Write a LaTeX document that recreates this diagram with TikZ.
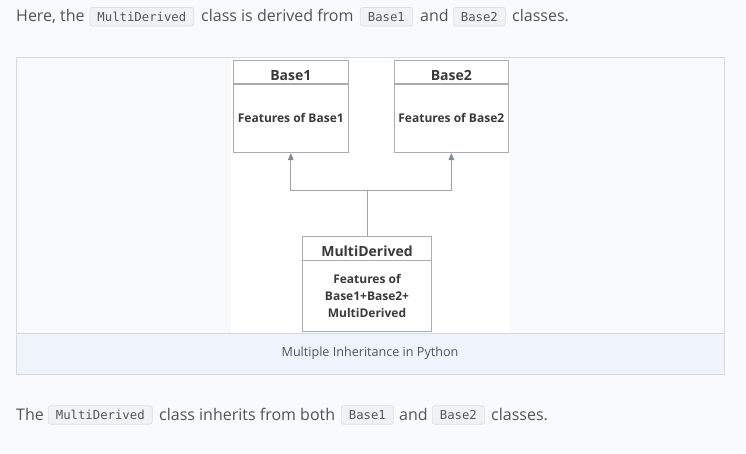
\documentclass[tikz,border=0pt]{standalone}
\usepackage{fontspec}
\setmainfont{Open Sans}
\setmonofont{DejaVu Sans Mono}
\usetikzlibrary{positioning,arrows.meta}

\definecolor{pagebg}{HTML}{F9FAFB}
\definecolor{framebg}{HTML}{F8F9FA}
\definecolor{frameline}{HTML}{D6DAE0}
\definecolor{capbg}{HTML}{EFF4FC}
\definecolor{captext}{HTML}{4F5366}
\definecolor{paratext}{HTML}{50525E}
\definecolor{chipbg}{HTML}{F1F2F3}
\definecolor{chipline}{HTML}{DCDFE3}
\definecolor{chiptext}{HTML}{55575F}
\definecolor{boxline}{HTML}{A9ACB0}
\definecolor{clstext}{HTML}{3A3A3A}
\definecolor{linkcol}{HTML}{97A4B0}
\definecolor{tipcol}{HTML}{7D8C9C}

\begin{document}
\begin{tikzpicture}[x=1pt, y=-1pt,
  para/.style={anchor=base west, inner sep=0pt, font=\fontsize{16}{19}\selectfont, text=paratext},
  chip/.style={draw=chipline, fill=chipbg, rounded corners=2.5pt, line width=0.7pt, anchor=west,
    minimum height=18.6pt, inner xsep=7.5pt, inner ysep=0pt, font=\fontsize{12.3}{14}\selectfont\ttfamily, text=chiptext},
  clshead/.style={draw=boxline, line width=0.9pt, fill=white, inner sep=0pt,
    text height=16pt, text depth=0pt, font=\fontsize{14}{16}\selectfont\bfseries, text=clstext},
  clsbody/.style={draw=boxline, line width=0.9pt, fill=white, inner sep=0pt, align=center,
    font=\fontsize{12}{17}\selectfont\bfseries, text=clstext},
  link/.style={draw=linkcol, line width=1pt},
  linkarrow/.style={link, -{Triangle[length=7pt,width=5.5pt,color=tipcol]}}
]
\useasboundingbox (0,0) rectangle (746,453);
\fill[pagebg] (0,0) rectangle (746,453);

% top line
\node[para] (t1) at (16,21.5) {Here, the};
\node[chip] (c1) at (89.6,16.7) {MultiDerived};
\node[para] (t2) at (201,21.5) {class is derived from};
\node[chip] (c2) at (360,16.7) {Base1};
\node[para] (t3) at (420,21.5) {and};
\node[chip] (c3) at (453,16.7) {Base2};
\node[para] (t4) at (512,21.5) {classes.};

% figure frame
\filldraw[fill=framebg, draw=frameline, line width=0.8pt] (16,57.3) rectangle (724,374);
\fill[white] (231,57.8) rectangle (510,333);
\filldraw[fill=capbg, draw=frameline, line width=0.8pt] (16,333) rectangle (724,374);
\node[font=\fontsize{12.6}{15}\selectfont, text=captext] (cap) at (370,353.5) {Multiple Inheritance in Python};

% classes
\node[clshead, minimum width=115pt, minimum height=22.6pt] (base1) at (290.8,72) {Base1};
\node[clsbody, minimum width=115pt, minimum height=68.4pt, below=0pt of base1] (base1f) {Features of Base1};
\node[clshead, minimum width=114.7pt, minimum height=22.6pt] (base2) at (451.3,72) {Base2};
\node[clsbody, minimum width=114.7pt, minimum height=68.4pt, below=0pt of base2] (base2f) {Features of Base2};
\node[clshead, minimum width=129.4pt, minimum height=24pt] (multi) at (367,248) {MultiDerived};
\node[clsbody, minimum width=129.4pt, minimum height=70.7pt, below=0pt of multi] (multif) {Features of\\Base1+Base2+\\MultiDerived};

\coordinate (hub) at (367,190);
\draw[link] (multi.north) -- (hub);
\draw[linkarrow] (hub) -| (base1f.south);
\draw[linkarrow] (hub) -| (base2f.south);

% bottom line
\node[para] (b1) at (16,420.5) {The};
\node[chip] (d1) at (48,415) {MultiDerived};
\node[para] (b2) at (159,420.5) {class inherits from both};
\node[chip] (d2) at (341,415) {Base1};
\node[para] (b3) at (399,420.5) {and};
\node[chip] (d3) at (432,415) {Base2};
\node[para] (b4) at (491,420.5) {classes.};
\end{tikzpicture}
\end{document}
